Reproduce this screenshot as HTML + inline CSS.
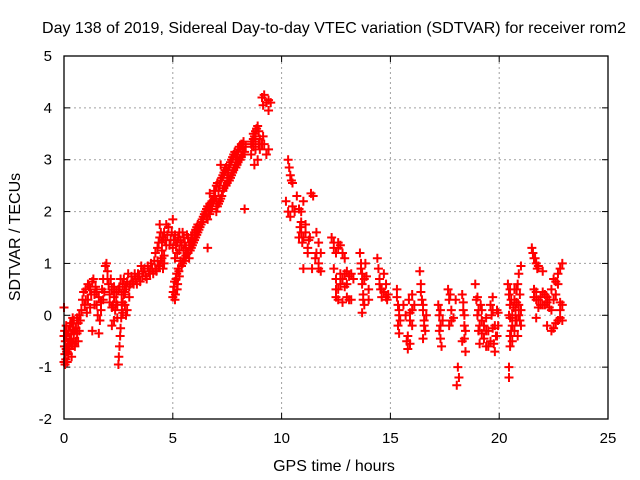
<!DOCTYPE html>
<html><head><meta charset="utf-8"><style>
body{margin:0;background:#fff;}
svg{display:block;font-family:"Liberation Sans",sans-serif;}
</style></head><body>
<svg id="chart" width="640" height="480" viewBox="0 0 640 480" xmlns="http://www.w3.org/2000/svg">
<rect width="640" height="480" fill="#fff"/>
<text x="334" y="33" font-size="16" text-anchor="middle" fill="#000">Day 138 of 2019, Sidereal Day-to-day VTEC variation (SDTVAR) for receiver rom2</text>
<g id="grid"></g>
<g id="ticks"></g>
<g id="marks"></g>
<rect x="64" y="56" width="544" height="363" fill="none" stroke="#000" stroke-width="1.3"/>
<text x="334" y="471" font-size="16" text-anchor="middle">GPS time / hours</text>
<text x="20" y="237" font-size="16" text-anchor="middle" transform="rotate(-90 20 237)">SDTVAR / TECUs</text>
</svg>
<script>
const xTicks=[0,5,10,15,20,25];
const yTicks=[-2,-1,0,1,2,3,4,5];
const hours=[0,0.02,0.04,0.06,0.08,0.1,0.12,0.15,0.18,0.2,0.22,0.25,0.28,0.3,0.33,0.36,0.4,0.42,0.45,0.5,0.55,0.6,0.65,0.7,0.75,0,0.03,0,
0.8,0.85,0.9,0.95,1.0,1.05,1.1,1.15,1.2,1.25,1.3,1.35,1.3,1.4,1.45,1.5,1.55,1.6,1.65,1.7,1.75,1.8,1.85,1.9,1.95,2.0,2.05,2.1,2.15,2.2,2.25,2.3,2.35,2.4,2.45,1.6,
2.5,2.52,2.55,2.58,2.6,2.63,2.66,2.7,2.75,2.8,
2.5,2.6,2.7,2.8,2.9,3.0,3.1,3.2,3.3,3.4,3.5,3.6,3.7,3.8,3.9,4.0,4.1,4.2,4.3,4.4,4.5,4.6,3.55,4.2,2.8,2.9,3.0,2.7,
4.3,4.4,4.5,4.6,4.7,4.8,4.9,5.0,5.1,5.2,5.3,5.4,5.5,5.6,5.7,5.8,5.9,5.0,5.1,5.2,4.6,4.4,
5.0,5.05,5.1,5.15,5.2,5.25,5.3,5.35,5.45,5.55,5.65,5.75,5.85,5.95,6.05,6.15,6.25,6.35,6.45,6.55,6.65,6.75,6.9,7.0,6.6,
5.9,6.0,6.1,6.2,6.3,6.4,6.5,6.6,6.7,6.8,6.9,7.0,7.1,7.2,7.3,7.4,7.5,7.6,7.7,7.8,7.9,8.0,8.1,8.2,7.0,7.1,7.2,7.3,7.4,7.5,7.6,7.7,7.8,7.9,8.0,8.1,8.2,8.3,7.2,6.9,6.7,8.3,8.6,8.7,8.8,8.9,8.6,8.7,8.8,8.9,9.0,9.2,9.3,9.4,8.75,
9.1,9.15,9.2,9.3,9.4,9.5,9.4,
10.3,10.35,10.4,10.45,10.5,10.2,10.3,10.4,10.5,10.6,10.7,10.8,10.9,11.0,10.85,11.35,11.45,10.8,10.95,11.1,11.2,11.3,11.1,11.2,11.0,11.6,11.7,11.8,11.7,11.8,11.55,11.4,
12.3,12.4,12.5,12.6,12.7,12.8,12.9,12.4,12.5,12.6,12.5,12.7,12.8,12.9,13.0,13.1,13.2,13.3,12.6,12.8,13.0,13.2,
13.6,13.65,13.7,13.7,13.75,13.8,13.7,13.85,13.9,14.0,14.0,14.4,14.45,14.5,14.55,14.6,14.7,14.8,14.9,14.85,
15.3,15.35,15.4,15.35,15.4,15.6,15.7,15.75,15.8,15.9,15.85,15.9,16.0,16.1,16.0,16.35,16.4,16.45,16.5,16.55,16.6,16.5,16.65,
17.2,17.25,17.3,17.3,17.35,17.4,17.65,17.7,17.8,17.7,17.9,18.0,18.1,18.15,18.05,18.3,18.35,18.4,18.4,18.45,18.3,
18.9,18.95,19.0,19.05,19.1,19.15,19.2,19.3,19.4,19.5,19.6,19.65,19.7,19.75,19.8,19.85,19.9,19.7,19.95,
20.4,20.45,20.5,20.5,20.55,20.5,20.45,20.45,20.6,20.7,20.75,20.8,20.9,21.0,20.9,20.85,21.0,20.95,
21.5,21.55,21.6,21.7,21.8,22.0,21.6,21.7,21.8,21.9,22.0,22.1,22.2,22.3,22.4,22.5,22.6,22.7,22.8,22.9,22.8,22.9,21.7,22.2,22.4,22.6,22.8,22.9,
0.05,0.1,0.15,0.2,0.25,0.3,0.35,0.4,0.45,0.5,0.55,0.6,0.65,0.7,0.05,0.12,0.35,
1.0,1.1,1.2,1.4,1.5,1.7,1.8,2.0,2.1,2.2,2.3,2.4,2.45,2.2,2.3,
2.55,2.65,2.75,2.85,2.95,3.05,3.15,3.25,3.35,3.45,3.65,3.75,3.85,3.95,4.05,4.15,4.25,4.35,4.45,4.55,2.65,2.85,
4.35,4.45,4.55,4.65,4.75,4.85,4.95,5.05,5.15,5.25,5.35,5.45,5.55,5.65,5.75,5.85,5.3,5.5,4.5,4.7,
5.02,5.08,5.12,5.18,5.22,5.28,5.4,5.5,5.6,5.7,5.8,5.9,6.0,6.1,6.2,6.3,6.4,6.5,6.6,6.7,6.8,6.95,
6.05,6.15,6.25,6.35,6.45,6.55,6.65,6.75,6.85,6.95,7.05,7.15,7.25,7.35,7.45,7.55,7.65,7.75,7.85,7.95,8.05,8.15,8.25,8.35,7.05,7.15,7.25,7.35,7.45,7.55,7.65,7.75,7.85,7.95,8.05,8.15,8.25,8.65,8.75,8.85,8.95,8.7,8.8,9.0,9.1,8.95,9.15,
10.9,10.9,11.0,11.25,11.6,11.7,12.4,12.6,12.7,12.5,12.9,13.0,13.1,13.65,13.75,13.8,14.5,14.6,14.7,14.8,
15.3,15.4,15.45,15.8,15.9,16.0,16.4,16.5,16.55,
17.3,17.25,17.75,17.8,18.35,18.4,18.45,
19.0,19.05,19.1,19.2,19.3,19.4,19.5,19.6,19.7,19.8,19.9,19.95,19.2,19.4,
20.45,20.5,20.55,20.6,20.65,20.7,20.75,20.8,20.85,20.9,20.95,21.0,20.5,20.6,20.8,20.7,
21.6,21.7,21.8,21.9,22.0,22.1,22.2,22.3,22.4,22.5,22.6,22.7,22.8,22.5,22.7,21.65,21.75];
const sdtvar=[-0.9,-0.6,-0.75,-0.5,-0.85,-0.65,-0.4,-0.7,-0.55,-0.3,-0.6,-0.45,-0.2,-0.5,-0.35,-0.15,-0.55,-0.3,-0.1,-0.6,-0.25,-0.05,-0.5,0.0,-0.1,0.15,-0.3,-0.4,
0.1,0.3,0.45,0.2,0.5,0.05,0.3,0.55,0.15,0.4,0.65,0.7,-0.3,0.4,0.55,0.2,0.0,0.35,-0.1,0.25,0.5,0.7,0.45,0.95,1.0,0.85,0.6,0.4,0.7,0.5,0.2,0.35,0.1,0.25,-0.05,-0.35,
-0.95,-0.8,-0.6,-0.4,-0.25,-0.05,0.1,0.25,0.4,0.5,
0.5,0.7,0.6,0.45,0.65,0.55,0.75,0.6,0.7,0.8,0.65,0.75,0.9,0.7,0.85,1.0,0.8,0.9,1.05,0.95,1.1,1.0,0.95,1.2,0.2,0.1,0.35,0.05,
1.3,1.5,1.4,1.6,1.35,1.7,1.45,1.3,1.55,1.4,1.6,1.35,1.5,1.3,1.5,1.4,1.55,1.85,1.1,1.2,1.15,1.75,
0.35,0.55,0.3,0.7,0.5,0.9,0.75,1.05,1.0,1.1,1.2,1.1,1.3,1.4,1.5,1.6,1.7,1.8,1.95,2.05,2.1,2.15,2.25,2.2,1.3,
1.45,1.6,1.7,1.65,1.8,1.9,2.0,1.85,1.95,2.1,2.3,2.5,2.4,2.6,2.7,2.8,2.75,2.9,3.0,3.1,3.05,3.2,3.25,3.3,2.0,2.15,2.25,2.4,2.5,2.55,2.6,2.7,2.8,2.85,2.95,3.0,3.1,3.15,2.9,2.4,2.35,2.05,3.3,3.5,3.55,3.65,3.1,3.4,3.2,3.0,3.4,3.3,3.1,3.2,2.9,
4.2,4.05,4.25,4.1,4.15,4.1,3.95,
3.0,2.85,2.7,2.6,2.55,2.2,2.0,1.9,2.1,2.0,2.3,2.05,1.8,2.2,1.7,2.35,2.3,1.5,1.4,1.6,1.3,1.5,1.75,1.2,0.9,1.6,1.4,1.2,1.0,0.85,1.1,0.9,
1.5,1.3,1.2,1.4,1.35,1.2,1.1,0.9,0.7,0.5,0.35,0.8,0.7,0.55,0.85,0.75,0.8,0.7,0.3,0.25,0.35,0.3,
1.2,1.0,0.8,0.6,0.4,0.2,0.05,1.0,0.75,0.5,0.3,1.1,0.9,0.7,0.5,0.35,0.8,0.6,0.4,0.3,
0.5,0.2,0.0,-0.2,-0.35,0.2,0.0,-0.5,-0.65,-0.55,0.3,0.05,-0.2,0.2,0.4,0.85,0.6,0.3,0.1,-0.1,-0.3,-0.45,0.0,
0.2,0.0,-0.2,-0.45,-0.6,-0.1,0.5,0.3,0.1,-0.2,-0.05,0.3,-1.0,-1.2,-1.35,0.4,0.1,-0.2,-0.45,-0.7,-0.5,
0.6,0.3,0.0,-0.3,-0.55,0.2,-0.1,-0.45,-0.3,-0.6,0.2,0.0,-0.25,-0.55,-0.7,-0.4,0.1,0.35,-0.2,
0.6,0.4,0.2,-0.05,-0.3,-0.6,-1.0,-1.2,0.0,0.3,-0.1,0.5,0.8,0.95,0.2,-0.4,0.1,-0.1,
1.3,1.2,1.1,1.0,0.95,0.85,0.5,0.3,0.15,0.35,0.2,0.4,0.25,0.15,0.5,0.7,0.4,0.6,0.9,1.0,0.25,0.2,-0.05,-0.2,-0.3,-0.15,-0.05,-0.1,
-0.4,-0.2,-0.9,-0.75,-0.65,-0.15,-0.55,-0.05,-0.45,-0.3,-0.5,-0.35,-0.15,-0.3,-0.95,-0.7,-0.8,
0.3,0.6,0.5,0.2,0.45,0.1,0.3,0.7,0.25,0.15,0.55,0.45,0.2,-0.2,-0.1,
0.55,0.4,0.7,0.55,0.8,0.6,0.65,0.8,0.6,0.75,0.85,0.75,0.95,0.8,0.9,1.05,0.85,0.95,1.05,0.9,0.25,0.0,
1.4,1.6,1.5,1.45,1.55,1.35,1.6,1.45,1.35,1.5,1.45,1.6,1.4,1.55,1.35,1.5,1.25,1.25,1.25,1.75,
0.45,0.65,0.4,0.8,0.6,0.85,0.95,1.05,1.15,1.2,1.25,1.35,1.45,1.55,1.65,1.75,1.85,2.0,2.1,2.15,2.2,2.3,
1.65,1.75,1.7,1.85,1.95,1.9,2.0,2.05,2.2,2.4,2.55,2.5,2.65,2.75,2.85,2.8,2.95,3.05,3.15,3.1,3.25,3.3,3.35,3.25,2.1,2.2,2.3,2.45,2.5,2.6,2.65,2.75,2.85,2.9,3.0,3.05,3.15,3.35,3.45,3.6,3.55,3.25,3.35,3.2,3.3,3.3,3.45,
2.0,1.6,1.5,1.45,1.2,0.9,1.4,1.3,0.6,0.5,0.8,0.6,0.3,0.9,0.3,0.7,0.6,0.5,0.45,0.35,
0.35,0.1,-0.1,-0.4,-0.1,0.1,0.45,0.2,-0.2,
0.1,-0.3,0.4,-0.1,0.25,0.0,-0.3,
0.35,0.1,-0.2,0.1,-0.2,-0.05,-0.3,-0.5,0.1,-0.2,-0.4,0.05,-0.35,-0.6,
0.0,0.5,0.3,-0.2,0.15,-0.3,0.1,0.25,0.6,0.0,0.4,-0.2,-0.4,-0.5,-0.1,0.5,
0.35,0.45,0.3,0.2,0.45,0.2,0.35,0.3,0.1,0.3,0.65,0.8,0.1,-0.25,-0.1,1.1,0.9];

const X0=64,X1=608,Y0=419,Y1=56;
function xs(h){return X0+(h-0)/(25-0)*(X1-X0);}
function ys(v){return Y0-(v-(-2))/(5-(-2))*(Y0-Y1);}
const NS='http://www.w3.org/2000/svg';
function mk(tag,attrs,parent){const e=document.createElementNS(NS,tag);for(const k in attrs)e.setAttribute(k,attrs[k]);parent.appendChild(e);return e;}
const grid=document.getElementById('grid'),ticks=document.getElementById('ticks'),marks=document.getElementById('marks');
xTicks.forEach(t=>{
  const x=xs(t);
  if(t>0&&t<25){const g=mk('line',{x1:x,x2:x,y1:Y0,y2:Y1,stroke:'#a0a0a0','stroke-dasharray':'2,3','stroke-width':1},grid);
  
  }
  mk('line',{x1:x,x2:x,y1:Y0,y2:Y0-6,stroke:'#000'},ticks);
  mk('line',{x1:x,x2:x,y1:Y1,y2:Y1+6,stroke:'#000'},ticks);
  const l=mk('text',{x:x,y:443,'font-size':15,'text-anchor':'middle'},ticks);
  l.textContent=t;
  
  
});
yTicks.forEach(t=>{
  const y=ys(t);
  if(t>-2&&t<5){const g=mk('line',{x1:X0,x2:X1,y1:y,y2:y,stroke:'#a0a0a0','stroke-dasharray':'2,3','stroke-width':1},grid);
  
  }
  mk('line',{x1:X0,x2:X0+6,y1:y,y2:y,stroke:'#000'},ticks);
  mk('line',{x1:X1,x2:X1-6,y1:y,y2:y,stroke:'#000'},ticks);
  const l=mk('text',{x:52,y:y+5,'font-size':15,'text-anchor':'end'},ticks);
  l.textContent=t;
  
  
});
let d='';
hours.forEach((h,i)=>{
  const x=xs(h),y=ys(sdtvar[i]);
  d+='M'+(x-4.5)+' '+y+'h9M'+x+' '+(y-4.5)+'v9';
});
const p=mk('path',{d:d,stroke:'#ff0000','stroke-width':2,fill:'none'},marks);


</script>
</body></html>
